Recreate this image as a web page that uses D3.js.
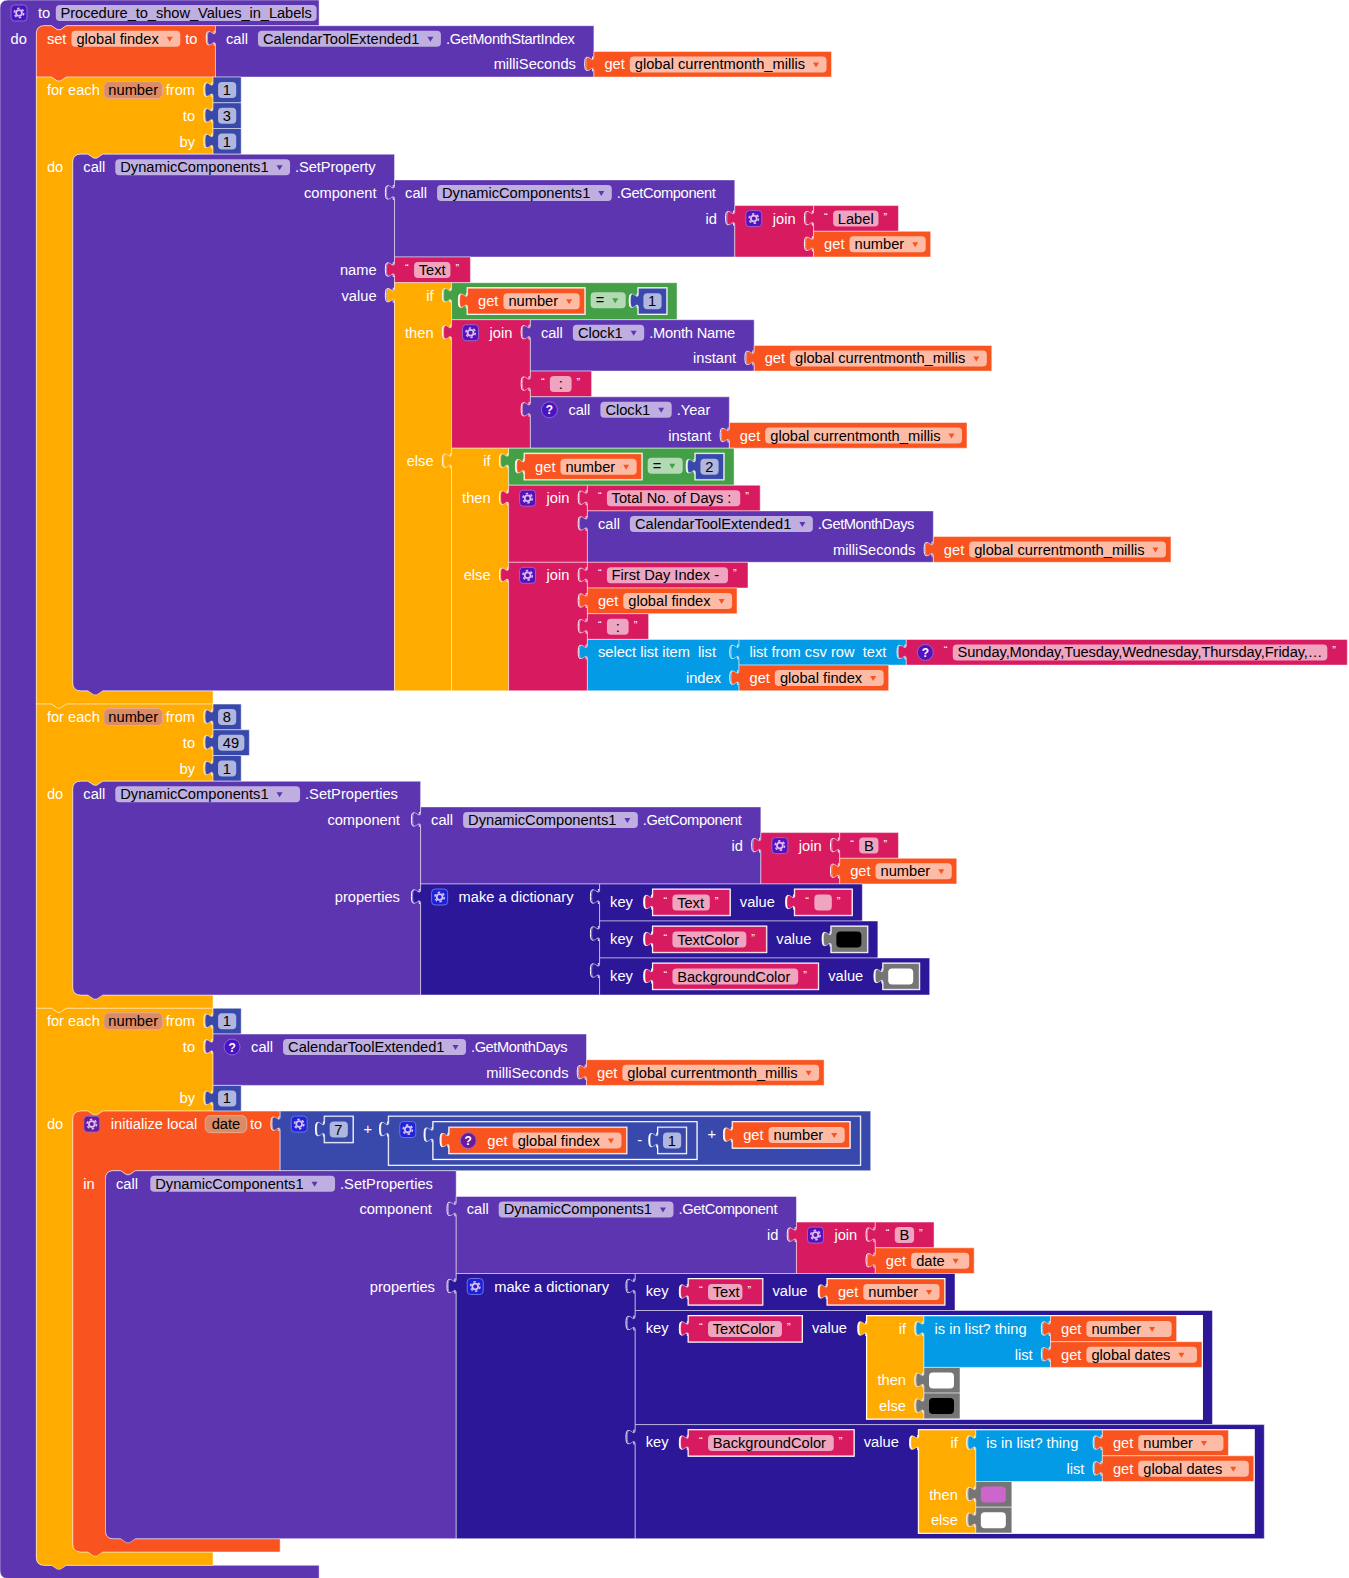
<!DOCTYPE html>
<html><head><meta charset="utf-8">
<script src="https://cdn.jsdelivr.net/npm/d3@7"></script>
<style>
html,body{margin:0;padding:0;background:#fff}
svg{display:block}
text{font-family:"Liberation Sans",Arial,sans-serif;font-size:14.67px;white-space:pre}
</style></head><body><svg id="c" width="1349" height="1578"></svg>
<script>
// ---- content ----
const procedureName = "Procedure_to_show_Values_in_Labels";
const calendar = "CalendarToolExtended1", dynamic = "DynamicComponents1", clock = "Clock1";
const globals = ["global findex", "global currentmonth_millis", "global dates"];
const loopVars = ["number", "date"];
const loop1 = [1, 3, 1], loop2 = [8, 49, 1], loop3From = 1, loop3By = 1;
const dictKeys = ["Text", "TextColor", "BackgroundColor"];
const labelPrefixes = ["Label", "B"];
const captions = ["Total No. of Days : ", "First Day Index - ", " : "];
const weekCsv = "Sunday,Monday,Tuesday,Wednesday,Thursday,Friday,\u2026";
const swatches = { white: "#ffffff", black: "#000000", pink: "#cc66cc" };
const palette = { proc:"#5e35b1", vars:"#f9541f", ctrl:"#ffab00", text:"#d81b60", list:"#039be5",
  math:"#3949ab", logic:"#43a047", dict:"#2d1799", color:"#757575" };
const iconFill = { [palette.proc]:"#4a14c0", [palette.text]:"#5a10b8", [palette.math]:"#1f24d8",
  [palette.dict]:"#1a22d8", [palette.vars]:"#6a1b9a" };
// rendered widths of strings whose advance differs from the installed font
const fit = { [procedureName]:251.3, ".GetMonthStartIndex":129, ".GetMonthDays":96.5, ".Month Name":86,
  ".SetProperty":80.5, ".GetComponent":99, [weekCsv]:365 };
const textPad = { "select list item  list":5, "list from csv row  text":2, "is in list? thing":6 };
const fieldPad = { TextColor:2.5, BackgroundColor:3, Text:1 };

// ---- field and block builders ----
const L=(t,o)=>({k:"text",t,...o}), DD=(t,extra=0)=>({k:"dd",t,extra}), VAR=t=>({k:"var",t}), TF=(t,extra=0)=>({k:"tf",t,extra}),
      NF=t=>({k:"nf",t:String(t)}), ICON=q=>({k:"icon",q}), SW=c=>({k:"sw",c}), IN=b=>({k:"inl",b}), Q=t=>({k:"q",t});
const row=(items,child)=>({items,child}), stm=(label,stack)=>({items:[L(label)],stack});
const B=(color,rows,o={})=>({color,rows,...o});
const G=(n,q,extra=0)=>B(palette.vars,[row([...(q?[ICON(true)]:[]),L("get"),DD(n,extra)])]);
const S=(t,q,extra=0)=>B(palette.text,[row([...(q?[ICON(true)]:[]),Q("\u201c"),TF(t,extra),Q("\u201d")])]);
const N=v=>B(palette.math,[row([NF(v)])]);
const SWB=c=>B(palette.color,[row([SW(c)])]);
const CALL=(comp,m,args,q,o={})=>B(palette.proc,[row([...(q?[ICON(true)]:[]),L("call",{after:o.callGap}),DD(comp,o.ddExtra||0),L("."+m)]),
  ...args.map(([n,c,dx])=>row([L(n,{dx})],c))],{endPad:o.endPad,edge:o.edge});
const JOIN=list=>B(palette.text,list.map((c,i)=>row(i?[]:[ICON(false),L("join")],c)));
const IF=(a,b,c)=>B(palette.ctrl,[row([L("if")],a),row([L("then")],b),row([L("else")],c)]);
const EQ=v=>B(palette.logic,[row([IN(G(loopVars[0])),DD("="),IN(N(v))])]);
const PAIR=(k,v,extra)=>B(palette.dict,[row([L("key"),IN(S(k,false,extra??fieldPad[k])),L("value"),IN(v)])]);
const DICT=list=>B(palette.dict,list.map((c,i)=>row(i?[]:[ICON(false),L("make a dictionary  ")],c)));
const INLIST=()=>B(palette.list,[row([L("is in list? thing")],G(loopVars[0],false,9)),row([L("list")],G(globals[2],false,5))]);
const GETC=(prefix,v)=>CALL(dynamic,"GetComponent",[["id",JOIN([S(prefix),G(v,false,v===loopVars[1]?3:0)])]]);
const FOR=(f,to,by,body,toBlock)=>B(palette.ctrl,[row([L("for each"),VAR(loopVars[0]),L("from")],N(f)),
  row([L("to")],toBlock||N(to)),row([L("by")],N(by)),stm("do",body)]);

const setFindex=B(palette.vars,[row([L("set"),DD(globals[0]),L("to")],
  CALL(calendar,"GetMonthStartIndex",[["milliSeconds",G(globals[1])]]))]);
const csvSelect=B(palette.list,[
  row([L("select list item  list")],B(palette.list,[row([L("list from csv row  text")],S(weekCsv,true))])),
  row([L("index")],G(globals[0]))]);
const valueIf=IF(EQ(1),
  JOIN([CALL(clock,"Month Name",[["instant",G(globals[1])]]),S(captions[2]),
        CALL(clock,"Year",[["instant",G(globals[1])]],true)]),
  IF(EQ(2),
     JOIN([S(captions[0]),CALL(calendar,"GetMonthDays",[["milliSeconds",G(globals[1])]])]),
     JOIN([S(captions[1]),G(globals[0]),S(captions[2]),csvSelect])));
const setProp=CALL(dynamic,"SetProperty",[["component",GETC(labelPrefixes[0],loopVars[0])],["name",S("Text")],["value",valueIf]]);
const setProps1=CALL(dynamic,"SetProperties",[["component",GETC(labelPrefixes[1],loopVars[0])],
  ["properties",DICT([PAIR(dictKeys[0],S("",false,0)),PAIR(dictKeys[1],SWB(swatches.black)),PAIR(dictKeys[2],SWB(swatches.white))])]],false,
  {ddExtra:10,endPad:22.7,edge:20.7});
const sub=B(palette.math,[row([IN(G(globals[0],true)),L("-"),IN(N(1))])]);
const add2=B(palette.math,[row([ICON(false),IN(sub),L("+"),IN(G(loopVars[0]))])]);
const add1=B(palette.math,[row([ICON(false),IN(N(7)),L("+"),IN(add2)])]);
const setProps2=CALL(dynamic,"SetProperties",[["component",GETC(labelPrefixes[1],loopVars[1])],
  ["properties",DICT([PAIR(dictKeys[0],G(loopVars[0]),-2),
    PAIR(dictKeys[1],IF(INLIST(),SWB(swatches.white),SWB(swatches.black))),
    PAIR(dictKeys[2],IF(INLIST(),SWB(swatches.pink),SWB(swatches.white)))]),3]],false,
  {ddExtra:10,callGap:12.3,endPad:23.3,edge:24.3});
const initLocal=B(palette.vars,[row([ICON(false),L("initialize local "),VAR(loopVars[1]),L("to")],add1),stm("in",[setProps2])]);
const program=B(palette.proc,[row([ICON(false),L("to"),TF(procedureName)]),
  stm("do",[setFindex,
    FOR(loop1[0],loop1[1],loop1[2],[setProp]),
    FOR(loop2[0],loop2[1],loop2[2],[setProps1]),
    FOR(loop3From,0,loop3By,[initLocal],CALL(calendar,"GetMonthDays",[["milliSeconds",G(globals[1])]],true))
  ])],{hat:true});

// ---- metrics ----
const ROW=25.7, INL=11.3, BAR=13.3, EDGE=18, indent={do:36.4,in:32.7};
const ctx=document.createElement("canvas").getContext("2d");
ctx.font='14.67px "Liberation Sans"';
const tw=t=>fit[t]??ctx.measureText(t).width;
const itemW=it=>({text:()=>tw(it.t)+(textPad[it.t]||0),dd:()=>tw(it.t)+26.5+it.extra,var:()=>tw(it.t)+(it.t==="date"?14:10),
  tf:()=>Math.max(tw(it.t)+9.5,17.5)+it.extra,nf:()=>tw(it.t)+10,
  icon:()=>17,sw:()=>25,q:()=>5,inl:()=>it.b.bw}[it.k])();
function gap(a,b){
  if(!a) return b.k==="inl"?16:(b.k==="nf"||b.k==="sw")?5:10.5;
  const p=a.k+">"+b.k;
  if(p==="text>dd") return a.after??(a.t==="call"?10:5);
  if(p==="text>inl"&&a.t==="+") return 16.7;
  if(p==="text>inl"&&a.t==="-") return 16;
  if(p==="inl>text"&&(b.t==="+"||b.t==="-")) return 10.7;
  return ({"dd>text":5,"dd>inl":12.7,"text>inl":20,"inl>text":10,"text>text":10,"icon>text":10.5,"icon>inl":17,
    "icon>q":10,"text>var":3.5,"var>text":2.7,"q>tf":4,"tf>q":5,"inl>dd":6,"text>tf":5.6})[p]??8;
}
const endPad=(b,it)=>!it?0:({dd:5,text:b.endPad??19,inl:10.5,sw:6,nf:5,icon:10,q:10,tf:2.5,var:5})[it.k];
function measure(b){
  let h=0,w=0;
  b.rows.forEach(r=>{
    r.items.forEach(it=>{if(it.k==="inl")measure(it.b)});
    if(r.child)measure(r.child);
    if(r.stack){r.stack.forEach(measure);}
    let c=0,prev=null; r.pos=[];
    r.items.forEach(it=>{c+=gap(prev,it);r.pos.push(c);c+=itemW(it);prev=it;});
    r.end=c;
    r.hasInl=r.items.some(i=>i.k==="inl");
    let rh=ROW;
    if(r.hasInl) rh=d3.max(r.items.filter(i=>i.k==="inl"),i=>i.b.bh)+INL;
    if(r.child) rh=Math.max(rh,r.child.bh);
    if(r.stack) rh=Math.max(ROW,d3.sum(r.stack,s=>s.h));
    r.h=rh; r.top=h; h+=rh;
    if(!r.stack){
      const rw=r.child?(r.items.length?c+(b.edge??EDGE):0):c+endPad(b,prev);
      w=Math.max(w,rw);
    }
  });
  if(b.rows[b.rows.length-1].stack) h+=BAR;
  b.w=w;b.h=h;
  let bw=w;
  b.rows.forEach(r=>{if(r.child)bw=Math.max(bw,w+r.child.bw);
    if(r.stack){const ind=indent[r.items[0].t];r.stack.forEach(s=>{bw=Math.max(bw,ind+s.bw)});}});
  b.bw=bw;b.bh=h;
}
const marks=[];
function place(b,x,y,o={}){
  marks.push({m:"block",b,x,y,...o});
  const rightAlign=r=>r.child&&r.items.length;
  b.rows.forEach(r=>{
    const top=y+r.top, shift=rightAlign(r)?b.w-(b.edge??EDGE)-r.end:0;
    r.items.forEach((it,i)=>{
      const ix=x+r.pos[i]+shift+(it.dx||0);
      if(it.k==="inl"){
        marks.push({m:"hole",x:ix,y:top+5.5,w:it.b.bw,h:it.b.bh});
        place(it.b,ix,top+5.5,{output:true});
      } else {
        marks.push({m:"field",it,color:b.color,x:ix,top,inl:r.hasInl,w:itemW(it)});
      }
    });
    if(r.child){
      marks.push({m:"bracket",x:x+b.w,y:top});
      place(r.child,x+b.w,top,{output:true});
    }
    if(r.stack){
      const ind=indent[r.items[0].t]; let cy=top;
      r.stack.forEach((s,i)=>{place(s,x+ind,cy,{stacked:true,first:i===0,last:i===r.stack.length-1});cy+=s.h;});
    }
  });
}
const tabUp=(p,x,y)=>{ // output tab, drawn from bottom to top
  p.lineTo(x,y+20); p.bezierCurveTo(x,y+10,x-8,y+28,x-8,y+12.5); p.bezierCurveTo(x-8,y-3,x,y+15,x,y+5);
};
function shape(d){
  const {b,x,y}=d,{w,h}=b,r=8,p=d3.path(),round=b.hat||d.first;
  if(round){p.moveTo(x,y+r);p.quadraticCurveTo(x,y,x+r,y);} else p.moveTo(x,y);
  if(d.stacked){p.lineTo(x+15,y);p.lineTo(x+21,y+4);p.lineTo(x+24,y+4);p.lineTo(x+30,y);}
  p.lineTo(x+w,y);
  b.rows.forEach(q=>{ if(!q.stack) return;
    const ind=x+indent[q.items[0].t],t=y+q.top,e=t+q.h;
    p.lineTo(x+w,t);p.lineTo(ind+30,t);p.lineTo(ind+24,t+4);p.lineTo(ind+21,t+4);p.lineTo(ind+15,t);
    p.lineTo(ind+r,t);p.quadraticCurveTo(ind,t,ind,t+r);
    p.lineTo(ind,e-r);p.quadraticCurveTo(ind,e,ind+r,e);p.lineTo(x+w,e);
  });
  p.lineTo(x+w,y+h);
  if(d.stacked){p.lineTo(x+30,y+h);p.lineTo(x+24,y+h+4);p.lineTo(x+21,y+h+4);p.lineTo(x+15,y+h);}
  if(b.hat||d.last){p.lineTo(x+r,y+h);p.quadraticCurveTo(x,y+h,x,y+h-r);} else p.lineTo(x,y+h);
  if(d.output) tabUp(p,x,y);
  p.closePath();
  return p.toString();
}
const tint=(c,t)=>d3.interpolateRgb(c,"#fff")(t);
measure(program); place(program,0,0);

// ---- draw ----
const svg=d3.select("#c");
const putText=(g,x,y,t,fill)=>{const s=g.append("text").attr("x",x).attr("y",y).attr("fill",fill).text(t);
  if(fit[t]) s.attr("textLength",fit[t]).attr("lengthAdjust","spacing"); return s;};
const draw={
  block(g,d){g.append("path").attr("d",shape(d)).attr("fill",d.b.color)
     .attr("stroke","rgba(255,255,255,.6)").attr("stroke-width",.8);},
  hole(g,d){g.append("rect").attr("x",d.x-1).attr("y",d.y-1).attr("width",d.w+2).attr("height",d.h+2).attr("fill","#fff");
     const p=d3.path();p.moveTo(d.x-1.2,d.y+20);tabUp(p,d.x-1.2,d.y);g.append("path").attr("d",p.toString()).attr("fill","#fff").attr("stroke","#fff");},
  bracket(g,d){const p=d3.path();p.moveTo(d.x-1.2,d.y+20);tabUp(p,d.x-1.2,d.y);
     g.append("path").attr("d",p.toString()).attr("fill","none").attr("stroke","#fff").attr("stroke-width",1);},
  field(g,d){
    const {it,color,x,top,inl,w}=d, fy=top+(inl?9.5:5), base=fy+13;
    const pale=tint(color,.6);
    if(it.k==="text"){putText(g,x,base,it.t,"#fff");}
    else if(it.k==="dd"||it.k==="tf"||it.k==="nf"){
      g.append("rect").attr("x",x).attr("y",fy).attr("width",w).attr("height",16).attr("rx",4).attr("fill",pale);
      putText(g,x+(it.k==="dd"?5:4.7),base,it.t,"#000");
      if(it.k==="dd"){const ax=x+w-10.5-(it.extra||0),ay=fy+6;
        g.append("path").attr("d",`M${ax-3},${ay}h6l-3,5z`).attr("fill",color);}
    } else if(it.k==="var"){
      g.append("rect").attr("x",x+.5).attr("y",fy-.5).attr("width",w-1).attr("height",17).attr("rx",5)
        .attr("fill","#db8b66").attr("stroke","#eaaa8c");
      putText(g,x+w/2-tw(it.t)/2,base,it.t,"#000");
    } else if(it.k==="q"){
      g.append("text").attr("x",x).attr("y",top+15).attr("fill","#fff").style("font-size","11px").text(it.t);
    } else if(it.k==="sw"){
      g.append("rect").attr("x",x).attr("y",fy).attr("width",w).attr("height",16).attr("rx",4).attr("fill",it.c);
    } else if(it.k==="icon"){
      const fill=iconFill[color]||"#4a14c0",iy=inl?top+5:fy,cx=x+8.5,cy=iy+8;
      if(it.q){
        g.append("circle").attr("cx",cx).attr("cy",cy).attr("r",8).attr("fill",fill).attr("stroke",tint(fill,.35));
        g.append("text").attr("x",cx).attr("y",cy+4.5).attr("text-anchor","middle").attr("fill","#fff")
          .style("font-size","12px").style("font-weight","bold").text("?");
      } else {
        g.append("rect").attr("x",x+.5).attr("y",iy).attr("width",16).attr("height",16).attr("rx",3.5)
          .attr("fill",fill).attr("stroke",tint(fill,.35));
        g.append("circle").attr("cx",cx).attr("cy",cy).attr("r",2.9).attr("fill","none").attr("stroke","#d8bff0").attr("stroke-width",1.8);
        g.append("circle").attr("cx",cx).attr("cy",cy).attr("r",4.7).attr("fill","none").attr("stroke","#d8bff0")
          .attr("stroke-width",1.6).attr("stroke-dasharray","2.46 2.46");
      }
    }
  }
};
svg.selectAll("g.m").data(marks).join("g").attr("class","m").each(function(d){draw[d.m](d3.select(this),d);});
</script></body></html>
